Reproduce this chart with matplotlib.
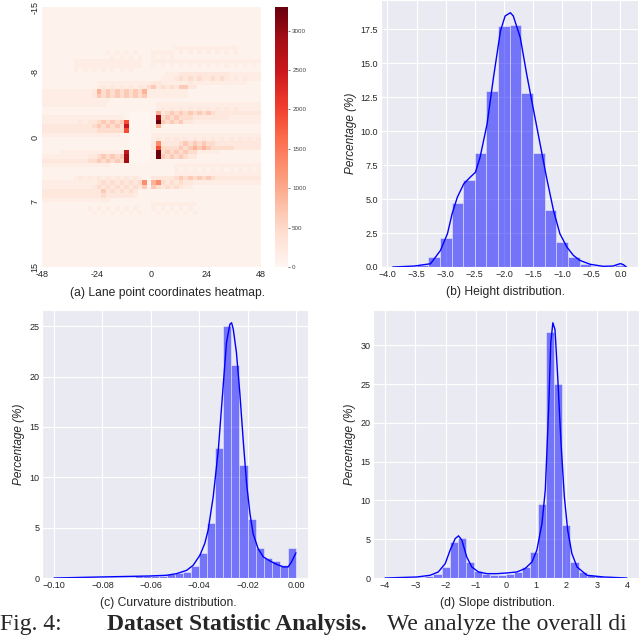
import numpy as np
import matplotlib.pyplot as plt
import seaborn as sns

sns.set_style('darkgrid')
plt.rcParams['font.family'] = ['Liberation Sans', 'DejaVu Sans']

# (a) lane point heatmap: one string per 0.5 m row (y -15 -> 15),
# one char per 2 m column (x -48 -> 48); chars are count levels
heat_levels = {'0': 0, '1': 60, '2': 150, '3': 280, '4': 450, '5': 650,
               '6': 900, '7': 1300, '8': 1900, '9': 2500, 'a': 2900, 'b': 3300}
heat_rows = ["111111111111 111111111111 111111111111 111111111111"] * 9 + [
    "111111111111 111111111111 111112222222 222222211111",
    "111111111111 112121212111 222221212121 212121211111",
    "111111111111 111212121211 212121111111 111111111111",
    "111111122222 222222222211 222222222222 222222222222",
    "111111122222 222222222211 212121212121 212121212121",
    "111111121212 121212121111 111111111111 111111111111",
    "111111111111 111111111111 111222333333 333332222222",
    "111111111111 111111111111 112223434343 343432323222",
    "111111111111 222222222222 332222223222 222222222111",
    "111111111111 232323232334 534343553311 111111111111",
    "222222222223 645454545462 222222221111 111111111111",
    "222222222223 545454545452 222222221111 111111111111",
    "222222222222 222111111111 111111111111 111111111111",
    "222222222222 221111111111 122222222222 222222222222",
    "111111111111 111111111111 123232323232 323232322222",
    "111111111111 111111100000 163454545454 543333333333",
    "222222222222 222222100000 1a4545444333 333332222222",
    "222222223233 454545800000 1b5454533222 222222222222",
    "333333333334 545454900000 161111111111 111111111111",
    "333333333333 444444800000 111111111111 111111111111",
    "222222222222 222221100000 222222222222 222222222222",
    "111111111111 111111100000 232323232323 232323232323",
    "111111111111 111111100000 373333454545 443333333333",
    "111111111111 111111100000 384444545656 544444333333",
    "111122222222 222222900000 1b4545454422 222111111111",
    "222222222233 454545a00000 1b5454543311 111111111111",
    "333333333344 545454a00000 111111111111 111111111111",
    "222222222222 222111111111 111112222222 222222222222",
    "111111111111 111111111111 111112121212 121212121212",
    "111111111111 111111111111 111112222222 222222222222",
    "111111123232 323232323211 333334545454 543333333333",
    "222222222222 343434343471 674343433222 222222222222",
    "222222222223 434343434351 543434322111 111111111111",
    "333333333333 353434343111 111111111111 111111111111",
    "333333333333 343333332111 111111111111 111111111111",
    "222222222222 222111111111 111111111111 111111111111",
    "111111111111 111111111111 222222222211 111111111111",
    "111111111121 212121212111 212121212111 111111111111",
    "111111111112 121212121211 121212121211 111111111111",
] + ["111111111111 111111111111 111111111111 111111111111"] * 12

# (b) height distribution
height_edges = [-3.9, -3.7, -3.5, -3.3, -3.1, -2.9, -2.7, -2.5, -2.3, -2.1, -1.9,
                -1.7, -1.5, -1.3, -1.1, -0.9, -0.7, -0.5, -0.3, -0.1, 0.1]
height_pct = [0.1, 0.1, 0.15, 0.75, 2.15, 4.7, 6.4, 8.4, 12.95, 17.75,
              17.85, 12.8, 8.4, 4.2, 1.85, 0.75, 0.2, 0.05, 0.05, 0.15]
height_kde_x = [-3.91, -3.54, -3.26, -3.09, -2.97, -2.89, -2.80, -2.69, -2.58, -2.49,
                -2.41, -2.29, -2.18, -2.06, -1.98, -1.89, -1.84, -1.72, -1.61, -1.49,
                -1.38, -1.27, -1.15, -1.04, -0.92, -0.81, -0.70, -0.52, -0.30, -0.13,
                -0.04, 0.0, 0.05, 0.10]
height_kde_y = [0.0, 0.07, 0.24, 1.22, 2.45, 3.92, 5.14, 6.12, 6.61, 6.97,
                8.08, 10.52, 13.95, 17.38, 18.48, 18.72, 18.48, 16.89, 14.19, 11.5,
                9.06, 6.61, 4.16, 2.45, 1.47, 0.86, 0.49, 0.2, 0.05, 0.07,
                0.2, 0.25, 0.17, 0.0]

# (c) curvature distribution, 30 bins over [-0.1, 0]
curv_edges = np.linspace(-0.1, 0.0, 31)
curv_pct = [0.05, 0.05, 0.05, 0.05, 0.08, 0.08, 0.1, 0.1, 0.1, 0.12,
            0.15, 0.15, 0.15, 0.2, 0.35, 0.45, 0.6, 1.2, 2.5, 5.5,
            12.9, 25.0, 21.2, 11.2, 5.85, 3.0, 2.0, 1.7, 1.3, 3.0]
curv_kde_x = [-0.1, -0.0811, -0.0604, -0.0535, -0.0494, -0.0452, -0.0425, -0.0397,
              -0.0377, -0.0363, -0.0342, -0.0321, -0.0301, -0.0287, -0.0273, -0.0266,
              -0.0259, -0.0246, -0.0232, -0.0218, -0.0204, -0.019, -0.0177, -0.0156,
              -0.0135, -0.0108, -0.008, -0.0052, -0.0032, -0.0018, 0.0]
curv_kde_y = [0.0, 0.1, 0.2, 0.27, 0.43, 0.76, 1.26, 2.26,
              3.42, 4.75, 8.07, 12.7, 19.0, 23.4, 25.2, 25.35,
              24.7, 22.4, 18.4, 13.7, 9.4, 6.4, 4.4, 2.9,
              2.1, 1.7, 1.36, 1.1, 1.1, 1.6, 2.5]

# (d) slope distribution, 30 bins over [-4, 4]
slope_edges = np.linspace(-4.0, 4.0, 31)
slope_pct = [0.02, 0.03, 0.05, 0.06, 0.12, 0.25, 0.55, 1.4, 4.6, 5.1,
             2.1, 0.9, 0.5, 0.35, 0.45, 0.55, 0.8, 1.4, 3.3, 9.6,
             31.7, 25.0, 6.8, 2.1, 0.8, 0.4, 0.2, 0.1, 0.05, 0.02]
slope_kde_x = [-4.0, -2.95, -2.51, -2.24, -2.01, -1.85, -1.68, -1.57, -1.46, -1.30,
               -1.13, -0.91, -0.63, -0.30, 0.03, 0.36, 0.63, 0.86, 1.02, 1.19,
               1.30, 1.41, 1.48, 1.55, 1.62, 1.71, 1.82, 1.93, 2.04, 2.18,
               2.35, 2.68, 3.23, 4.0]
slope_kde_y = [0.0, 0.13, 0.35, 0.78, 1.86, 3.58, 5.09, 5.44, 4.88, 2.72,
               1.42, 0.78, 0.56, 0.56, 0.65, 0.78, 1.21, 2.07, 3.58, 7.03,
               11.35, 21.7, 30.3, 32.93, 32.07, 26.0, 17.4, 10.5, 6.17, 3.15,
               1.42, 0.35, 0.13, 0.0]

W, H = 640, 636
fig = plt.figure(figsize=(6.4, 6.36), dpi=100)

def box(l, t, r, b):
    return [l / W, 1 - b / H, (r - l) / W, (b - t) / H]

tick_fs = 6.5
cap_fs = 8.7

# ---- (a) heatmap
heat = np.array([[heat_levels[c] for c in row.replace(' ', '')] for row in heat_rows])
ax_a = fig.add_axes(box(42, 7, 261, 267))
cax = fig.add_axes(box(275, 7, 288, 267))
im = ax_a.imshow(heat, cmap='Reds', vmin=0, vmax=3300, aspect='auto',
                 extent=[-48, 48, 15, -15], interpolation='nearest')
ax_a.grid(False)
ax_a.set_xticks([-48, -24, 0, 24, 48])
ax_a.set_xticklabels(['-48', '-24', '0', '24', '48'], fontsize=tick_fs, color='#262626')
ax_a.set_yticks([-15, -7.5, 0, 7.5, 15])
ax_a.set_yticklabels(['-15', '-8', '0', '7', '15'], fontsize=tick_fs, color='#262626',
                     rotation=90, va='center')
ax_a.tick_params(length=0, pad=2)
for s in ax_a.spines.values():
    s.set_visible(False)
cb = fig.colorbar(im, cax=cax, ticks=[0, 500, 1000, 1500, 2000, 2500, 3000])
cb.outline.set_visible(False)
cax.tick_params(labelsize=4.5, length=1.5, width=0.5, pad=1.5, colors='#444444')
fig.text(168 / W, 1 - 293 / H, '(a) Lane point coordinates heatmap.', ha='center',
         va='center', fontsize=cap_fs)

# ---- histograms
def hist_panel(rect, edges, pct, kx, ky, yticks, caption, cap_xy):
    ax = fig.add_axes(rect)
    edges = np.asarray(edges, dtype=float)
    ax.bar(edges[:-1], pct, width=np.diff(edges), align='edge', color='blue',
           alpha=0.5, edgecolor='white', linewidth=0.6)
    ax.plot(kx, ky, color='blue', linewidth=1.0)
    ax.set_yticks(yticks)
    ax.tick_params(labelsize=tick_fs, colors='#262626', length=0, pad=2)
    ax.set_ylabel('Percentage (%)', fontsize=8.5, style='italic', labelpad=3)
    fig.text(cap_xy[0] / W, 1 - cap_xy[1] / H, caption, ha='center', va='center',
             fontsize=cap_fs)
    return ax

ax_b = hist_panel(box(381, 0, 638, 267), height_edges, height_pct, height_kde_x,
                  height_kde_y, [0, 2.5, 5, 7.5, 10, 12.5, 15, 17.5],
                  '(b) Height distribution.', (505, 292))
ax_b.set_yticklabels(['0.0', '2.5', '5.0', '7.5', '10.0', '12.5', '15.0', '17.5'])
ax_b.set_xticks([-4, -3.5, -3, -2.5, -2, -1.5, -1, -0.5, 0])
ax_b.set_xticklabels(['\u22124.0', '\u22123.5', '\u22123.0', '\u22122.5', '\u22122.0',
                      '\u22121.5', '\u22121.0', '\u22120.5', '0.0'])

ax_c = hist_panel(box(42, 310, 308, 578), curv_edges, curv_pct, curv_kde_x,
                  curv_kde_y, [0, 5, 10, 15, 20, 25],
                  '(c) Curvature distribution.', (168, 603))
ax_c.set_xticks([-0.1, -0.08, -0.06, -0.04, -0.02, 0])
ax_c.set_xticklabels(['\u22120.10', '\u22120.08', '\u22120.06', '\u22120.04',
                      '\u22120.02', '0.00'])

ax_d = hist_panel(box(373, 310, 639, 578), slope_edges, slope_pct, slope_kde_x,
                  slope_kde_y, [0, 5, 10, 15, 20, 25, 30],
                  '(d) Slope distribution.', (498, 603))
ax_d.set_xticks([-4, -3, -2, -1, 0, 1, 2, 3, 4])
ax_d.set_xticklabels(['\u22124', '\u22123', '\u22122', '\u22121', '0', '1', '2', '3', '4'])

# ---- figure caption along the bottom edge
base = 1 - 630 / H
fig.text(0.0, base, 'Fig. 4:', fontsize=17, family='Liberation Serif',
         ha='left', va='baseline')
fig.text(107 / W, base, 'Dataset Statistic Analysis.', fontsize=17,
         family='Liberation Serif', weight='bold', ha='left', va='baseline')
fig.text(387 / W, base, 'We analyze the overall di', fontsize=17,
         family='Liberation Serif', ha='left', va='baseline')

fig.savefig('out.png', dpi=100)
